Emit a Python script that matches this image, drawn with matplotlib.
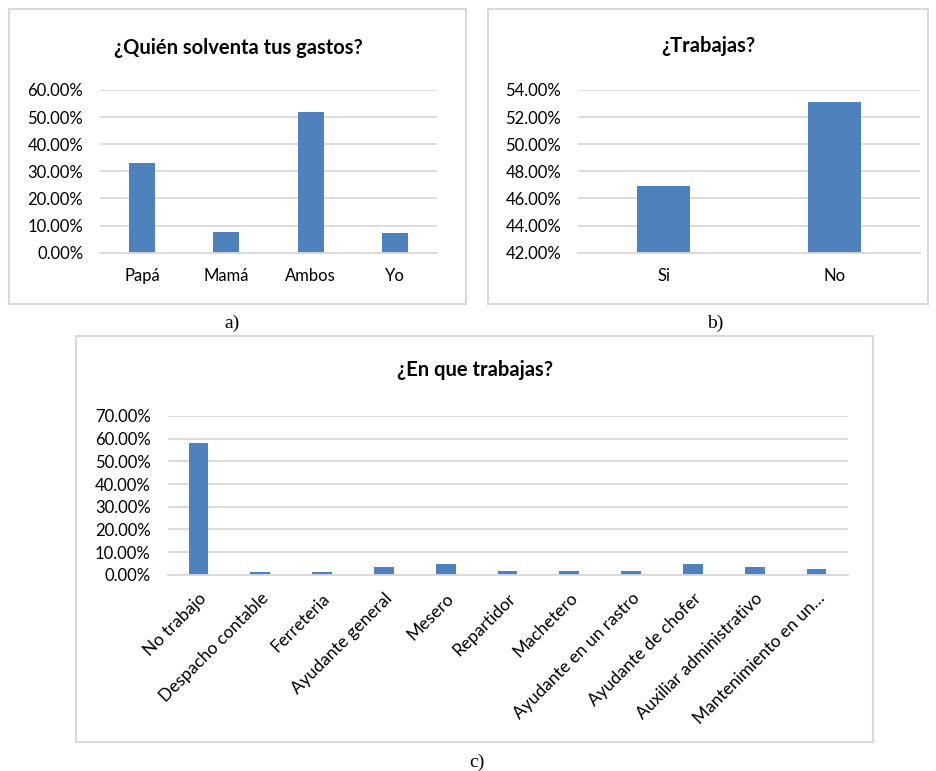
import matplotlib
matplotlib.use('Agg')
import matplotlib.pyplot as plt
from matplotlib.patches import Rectangle
from matplotlib.ticker import FuncFormatter, MultipleLocator

# data
gastos_cats = ['Papá', 'Mamá', 'Ambos', 'Yo']
gastos_vals = [0.331, 0.077, 0.519, 0.071]

trabajas_cats = ['Si', 'No']
trabajas_vals = [0.469, 0.531]

empleo_cats = ['No trabajo', 'Despacho contable', 'Ferreteria', 'Ayudante general',
               'Mesero', 'Repartidor', 'Machetero', 'Ayudante en un rastro',
               'Ayudante de chofer', 'Auxiliar administrativo', 'Mantenimiento en un…']
empleo_vals = [0.581, 0.012, 0.012, 0.035, 0.049, 0.016, 0.016, 0.015, 0.047, 0.035, 0.025]

bar_color = '#4F81BD'
grid_color = '#D9D9D9'
font = ['Lato', 'DejaVu Sans']
W, H = 936, 771

fig = plt.figure(figsize=(9.36, 7.71), dpi=100)
fig.patch.set_facecolor('white')


def box(x0, y0, x1, y1):
    # pixel coords (top-left origin) -> figure fraction
    fig.patches.append(Rectangle((x0 / W, 1 - y1 / H), (x1 - x0) / W, (y1 - y0) / H,
                                 transform=fig.transFigure, fill=False,
                                 edgecolor=grid_color, linewidth=1.5))


def axes_px(x0, y0, x1, y1):
    return fig.add_axes([x0 / W, 1 - y1 / H, (x1 - x0) / W, (y1 - y0) / H])


def style(ax, lo, hi, step):
    ax.set_ylim(lo, hi)
    ax.yaxis.set_major_locator(MultipleLocator(step))
    ax.yaxis.set_major_formatter(FuncFormatter(lambda v, p: '{:.2f}%'.format(v * 100)))
    ax.grid(axis='y', color=grid_color, linewidth=1.3)
    ax.set_axisbelow(True)
    for s in ['top', 'right', 'left']:
        ax.spines[s].set_visible(False)
    ax.spines['bottom'].set_color(grid_color)
    ax.spines['bottom'].set_linewidth(1.3)
    ax.tick_params(length=0, labelsize=12, labelcolor='black')
    ax.tick_params(axis='y', pad=12)
    for lab in ax.get_xticklabels() + ax.get_yticklabels():
        lab.set_family(font)


# a) ¿Quién solventa tus gastos?
box(9, 9, 466, 304)
ax1 = axes_px(100, 90, 437, 252.7)
ax1.bar(range(len(gastos_cats)), gastos_vals, width=0.31, color=bar_color)
ax1.set_xlim(-0.5, len(gastos_cats) - 0.5)
ax1.set_xticks(range(len(gastos_cats)))
ax1.set_xticklabels(gastos_cats)
style(ax1, 0, 0.6, 0.1)
ax1.tick_params(axis='x', pad=11)
fig.text(238 / W, 1 - 48 / H, '¿Quién solventa tus gastos?', ha='center', va='center',
         fontsize=14.5, fontweight='bold', family=font)

# b) ¿Trabajas?
box(488, 9, 928, 304)
ax2 = axes_px(578, 90, 920, 252.7)
ax2.bar(range(len(trabajas_cats)), trabajas_vals, width=0.31, color=bar_color)
ax2.set_xlim(-0.5, len(trabajas_cats) - 0.5)
ax2.set_xticks(range(len(trabajas_cats)))
ax2.set_xticklabels(trabajas_cats)
style(ax2, 0.42, 0.54, 0.02)
ax2.tick_params(axis='x', pad=11)
fig.text(708 / W, 1 - 46 / H, '¿Trabajas?', ha='center', va='center',
         fontsize=14.5, fontweight='bold', family=font)

# c) ¿En que trabajas?
box(76, 336, 873, 742)
ax3 = axes_px(167.5, 416, 847.5, 574.7)
ax3.bar(range(len(empleo_cats)), empleo_vals, width=0.32, color=bar_color)
ax3.set_xlim(-0.5, len(empleo_cats) - 0.5)
ax3.set_xticks(range(len(empleo_cats)))
ax3.set_xticklabels(empleo_cats, rotation=45, ha='right', rotation_mode='anchor')
style(ax3, 0, 0.7, 0.1)
ax3.tick_params(axis='x', pad=11, labelsize=12.5)
fig.text(475 / W, 1 - 370 / H, '¿En que trabajas?', ha='center', va='center',
         fontsize=14.5, fontweight='bold', family=font)

# panel letters
serif = ['Liberation Serif', 'DejaVu Serif']
fig.text(232 / W, 1 - 323 / H, 'a)', ha='center', va='center', fontsize=14, family=serif)
fig.text(715 / W, 1 - 323 / H, 'b)', ha='center', va='center', fontsize=14, family=serif)
fig.text(477 / W, 1 - 762 / H, 'c)', ha='center', va='center', fontsize=14, family=serif)

fig.savefig('out.png', dpi=100, facecolor='white')
